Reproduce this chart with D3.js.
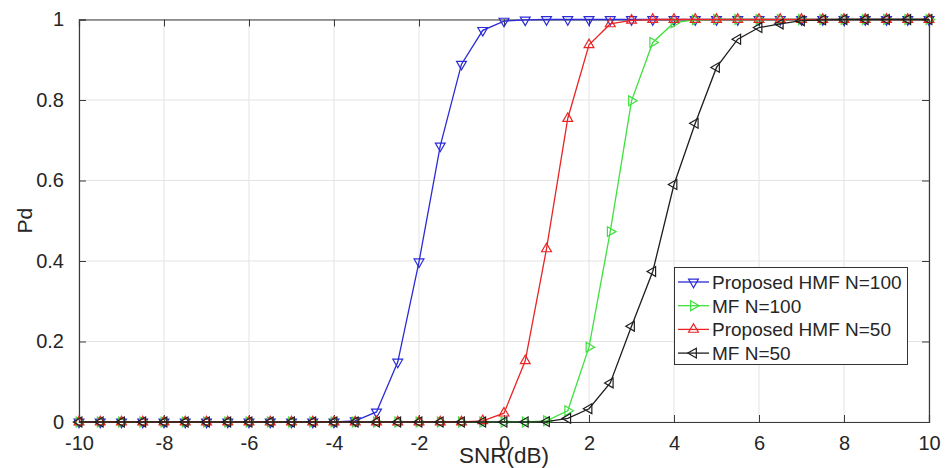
<!DOCTYPE html>
<html><head><meta charset="utf-8">
<script src="https://cdn.jsdelivr.net/npm/d3@7/dist/d3.min.js"></script>
<style>body{margin:0;background:#fff}svg{display:block}text{font-family:"Liberation Sans",Arial,sans-serif;fill:#262626}</style>
</head><body><svg id="c" width="950" height="468"></svg>
<script>
const snr = [-10,-9.5,-9,-8.5,-8,-7.5,-7,-6.5,-6,-5.5,-5,-4.5,-4,-3.5,-3,-2.5,-2,-1.5,-1,-0.5,0,0.5,1,1.5,2,2.5,3,3.5,4,4.5,5,5.5,6,6.5,7,7.5,8,8.5,9,9.5,10];
const hmf100 = [0,0,0,0,0,0,0,0,0,0,0,0,0,0.003,0.025,0.149,0.398,0.686,0.889,0.973,0.996,0.999,1,1,1,1,1,1,1,1,1,1,1,1,1,1,1,1,1,1,1];
const mf100  = [0,0,0,0,0,0,0,0,0,0,0,0,0,0,0,0,0,0,0,0,0,0,0.003,0.028,0.186,0.473,0.798,0.943,0.992,0.999,1,1,1,1,1,1,1,1,1,1,1];
const hmf50  = [0,0,0,0,0,0,0,0,0,0,0,0,0,0,0,0,0,0,0,0.003,0.022,0.152,0.43,0.754,0.937,0.989,0.998,1,1,1,1,1,1,1,1,1,1,1,1,1,1];
const mf50   = [0,0,0,0,0,0,0,0,0,0,0,0,0,0,0,0,0,0,0,0,0,0,0.001,0.009,0.033,0.097,0.238,0.374,0.59,0.742,0.881,0.951,0.98,0.989,0.997,0.999,1,1,1,1,1];
const seriesNames = ["Proposed HMF N=100","MF N=100","Proposed HMF N=50","MF N=50"];
const xTicks = [-10,-8,-6,-4,-2,0,2,4,6,8,10];
const yTicks = [0,0.2,0.4,0.6,0.8,1];
const xLabel = "SNR(dB)", yLabel = "Pd";

const series = [
  {name:seriesNames[0], vals:hmf100, color:"#2b2bd6", rot:180},
  {name:seriesNames[1], vals:mf100,  color:"#3fe03f", rot:90},
  {name:seriesNames[2], vals:hmf50,  color:"#e82424", rot:0},
  {name:seriesNames[3], vals:mf50,   color:"#1e1e1e", rot:-90}
];

const L=79, R=929, T=19.5, B=422;
const svg = d3.select("#c");
const x = d3.scaleLinear().domain([-10,10]).range([L,R]);
const y = d3.scaleLinear().domain([0,1]).range([B,T]);

// grid
const g = svg.append("g");
g.selectAll(".gx").data(xTicks).join("line").attr("x1",d=>x(d)).attr("x2",d=>x(d)).attr("y1",T).attr("y2",B).attr("stroke","#e3e3e3").attr("stroke-width",1);
g.selectAll(".gy").data(yTicks).join("line").attr("y1",d=>y(d)).attr("y2",d=>y(d)).attr("x1",L).attr("x2",R).attr("stroke","#e3e3e3").attr("stroke-width",1);

// axes
const tk = 7, ac="#3a3a3a";
const ax = svg.append("g").attr("transform",`translate(0,${B})`).call(d3.axisBottom(x).tickValues(xTicks).tickSize(-tk).tickPadding(tk+6).tickFormat(d=>String(d)));
const axT = svg.append("g").attr("transform",`translate(0,${T})`).call(d3.axisTop(x).tickValues(xTicks).tickSize(-tk).tickFormat(""));
const ay = svg.append("g").attr("transform",`translate(${L},0)`).call(d3.axisLeft(y).tickValues(yTicks).tickSize(-tk).tickPadding(tk+8).tickFormat(d=>d===0||d===1?String(d):d3.format(".1f")(d)));
const ayR = svg.append("g").attr("transform",`translate(${R},0)`).call(d3.axisRight(y).tickValues(yTicks).tickSize(-tk).tickFormat(""));
[ax,axT,ay,ayR].forEach(a=>{a.select(".domain").attr("stroke",ac).attr("stroke-width",1.2);a.selectAll(".tick line").attr("stroke",ac);a.selectAll("text").style("font-size","20px").attr("fill","#262626");});
ax.selectAll("text").attr("dy","0.75em");

// lines and markers
const line = d3.line().x((d,i)=>x(snr[i])).y(d=>y(d));
const tri = d3.symbol().type(d3.symbolTriangle).size(42);
series.forEach(s=>{
  svg.append("path").datum(s.vals).attr("d",line).attr("fill","none").attr("stroke",s.color).attr("stroke-width",1.3);
  svg.append("g").selectAll("path").data(s.vals).join("path")
    .attr("d",tri).attr("transform",(d,i)=>`translate(${x(snr[i])},${y(d)}) rotate(${s.rot})`)
    .attr("fill","none").attr("stroke",s.color).attr("stroke-width",1.2);
});

// labels
svg.append("text").attr("x",x(0)).attr("y",463).attr("text-anchor","middle").style("font-size","22.5px").text(xLabel);
svg.append("text").attr("transform",`translate(32,${y(0.5)}) rotate(-90)`).attr("text-anchor","middle").style("font-size","21px").text(yLabel);

// legend
const lg = svg.append("g");
lg.append("rect").attr("x",674.5).attr("y",267.5).attr("width",233).attr("height",97).attr("fill","#fff").attr("stroke","#333").attr("stroke-width",1);
series.forEach((s,i)=>{
  const yy = 282 + i*23.7;
  lg.append("line").attr("x1",678).attr("x2",709).attr("y1",yy).attr("y2",yy).attr("stroke",s.color).attr("stroke-width",1.3);
  lg.append("path").attr("d",tri).attr("transform",`translate(693.5,${yy}) rotate(${s.rot})`).attr("fill","none").attr("stroke",s.color).attr("stroke-width",1.2);
  lg.append("text").attr("x",712).attr("y",yy).attr("dy","0.36em").style("font-size","19px").text(s.name);
});
</script></body></html>
